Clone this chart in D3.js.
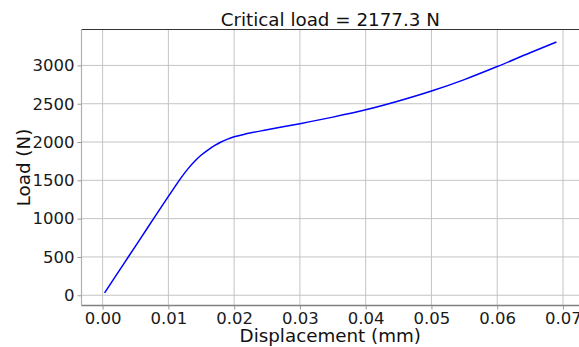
<!DOCTYPE html>
<html>
<head>
<meta charset="utf-8">
<script src="https://cdn.jsdelivr.net/npm/d3@7"></script>
<style>
  body { margin: 0; background: #fff; }
  svg { display: block; font-family: "DejaVu Sans", sans-serif; }
</style>
</head>
<body>
<svg id="chart" width="579" height="347"></svg>
<script>
"use strict";

// displacement (mm) and load (N)
var displacement = [0.0003, 0.002, 0.004, 0.006, 0.008, 0.010, 0.011, 0.012, 0.013, 0.014,
                    0.015, 0.016, 0.017, 0.018, 0.019, 0.020, 0.022, 0.025, 0.030, 0.035,
                    0.040, 0.045, 0.050, 0.055, 0.060, 0.065, 0.069];
var load = [30, 252, 512, 772, 1032, 1290, 1418, 1542, 1653, 1749,
            1830, 1895, 1952, 2000, 2038, 2068, 2110, 2160, 2240, 2325,
            2420, 2535, 2665, 2815, 2985, 3165, 3305];
var xTicks = [0.00, 0.01, 0.02, 0.03, 0.04, 0.05, 0.06, 0.07];
var yTicks = [0, 500, 1000, 1500, 2000, 2500, 3000];
var title = "Critical load = 2177.3 N";

var svg = d3.select("#chart");
var pLeft = 81.5, pRight = 579, pTop = 29.5, pBottom = 305.5;

// matplotlib style 5% margins
function padded(ext) {
  var p = (ext[1] - ext[0]) * 0.05;
  return [ext[0] - p, ext[1] + p];
}

var x = d3.scaleLinear().domain(padded(d3.extent(displacement))).range([pLeft + 0.5, pRight]);
var y = d3.scaleLinear().domain(padded(d3.extent(load))).range([pBottom, pTop]);

var grid = svg.append("g").attr("class", "grid")
  .style("stroke", "#c4c4c4")
  .style("stroke-width", "1px");

grid.selectAll(".vgrid").data(xTicks)
  .enter().append("line")
  .attr("x1", function(d) { return x(d); })
  .attr("x2", function(d) { return x(d); })
  .attr("y1", pTop).attr("y2", pBottom);

grid.selectAll(".hgrid").data(yTicks)
  .enter().append("line")
  .attr("y1", function(d) { return y(d); })
  .attr("y2", function(d) { return y(d); })
  .attr("x1", pLeft).attr("x2", pRight);

// spines
svg.append("line").attr("x1", pLeft).attr("x2", pRight).attr("y1", pTop).attr("y2", pTop)
  .style("stroke", "#333").style("stroke-width", "1.2px");
svg.append("line").attr("x1", pLeft).attr("x2", pLeft).attr("y1", pTop).attr("y2", pBottom)
  .style("stroke", "#b0b0b0").style("stroke-width", "1.2px");
svg.append("line").attr("x1", pLeft).attr("x2", pRight).attr("y1", pBottom).attr("y2", pBottom)
  .style("stroke", "#808080").style("stroke-width", "1.5px");

var xAxis = d3.axisBottom(x).tickValues(xTicks).tickFormat(d3.format(".2f"))
  .tickSizeInner(4).tickSizeOuter(0).tickPadding(3);
var yAxis = d3.axisLeft(y).tickValues(yTicks).tickFormat(d3.format("d"))
  .tickSizeInner(4).tickSizeOuter(0).tickPadding(3);

var gx = svg.append("g").attr("transform", "translate(0," + pBottom + ")").call(xAxis);
var gy = svg.append("g").attr("transform", "translate(" + pLeft + ",0)").call(yAxis);

[gx, gy].forEach(function(g) {
  g.select(".domain").remove();
  g.selectAll(".tick line").style("stroke", "#999").style("stroke-width", "1px");
  g.selectAll(".tick text")
    .style("font-size", "16.5px")
    .style("font-family", "DejaVu Sans")
    .style("fill", "#1a1a1a");
});
gx.selectAll(".tick text").attr("dy", "0.68em");

var line = d3.line()
  .x(function(d, i) { return x(displacement[i]); })
  .y(function(d) { return y(d); })
  .curve(d3.curveMonotoneX);

svg.append("path")
  .datum(load)
  .attr("d", line)
  .style("fill", "none")
  .style("stroke", "#0000ff")
  .style("stroke-width", "1.5px");

svg.append("text")
  .attr("x", (pLeft + pRight) / 2)
  .attr("y", 26)
  .attr("text-anchor", "middle")
  .style("font-size", "18.3px")
  .style("fill", "#111")
  .text(title);

svg.append("text")
  .attr("x", (pLeft + pRight) / 2)
  .attr("y", 342)
  .attr("text-anchor", "middle")
  .style("font-size", "18.3px")
  .style("fill", "#111")
  .text("Displacement (mm)");

svg.append("text")
  .attr("transform", "translate(29.5," + ((pTop + pBottom) / 2) + ") rotate(-90)")
  .attr("text-anchor", "middle")
  .style("font-size", "18.3px")
  .style("fill", "#111")
  .text("Load (N)");
</script>
</body>
</html>
